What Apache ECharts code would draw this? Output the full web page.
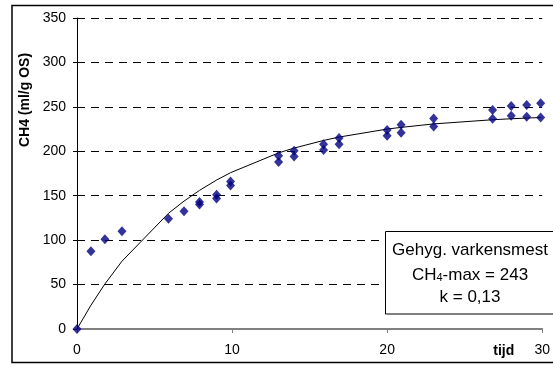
<!DOCTYPE html>
<html>
<head>
<meta charset="utf-8">
<script src="https://cdn.jsdelivr.net/npm/echarts@6/dist/echarts.min.js"></script>
<style>
  html, body { margin: 0; padding: 0; background: #fff; }
  #chart { width: 553px; height: 367px; }
</style>
</head>
<body>
<div id="chart"></div>
<script>
// Sampling times (days)
var sampleDays = [0, 0.9, 1.8, 2.9, 5.9, 6.9, 7.9, 9, 9.9, 13, 14, 15.9, 16.9, 20, 20.9, 23, 26.8, 28, 29, 29.9];
// Cumulative methane yield, duplicate A (ml/g OS)
var yieldA = [0, 87.5, 101, 110, 124, 132.5, 140, 147, 161.5, 188, 194, 201.5, 208, 217.5, 221, 228, 236.5, 240, 239, 238];
// Duplicate B (only measured from day 8 on)
var yieldB = [null, null, null, null, null, null, 143, 151, 166, 195, 200.5, 208, 215, 224, 230, 237, 246.5, 251, 252, 254];
// First-order model curve, CH4-max = 243, k = 0,13
var modelYield = [0, 26.8, 50.7, 76.3, 130.2, 143.9, 156.0, 167.6, 175.9, 198.2, 203.6, 212.2, 216.0, 225.0, 226.9, 230.8, 235.5, 236.6, 237.4, 238.0];
var xTicks = [0, 10, 20, 30];
var yTicks = [0, 50, 100, 150, 200, 250, 300, 350];

function pairs(xs, ys) {
  var out = [];
  for (var i = 0; i < xs.length; i++) {
    if (ys[i] !== null) out.push([xs[i], ys[i]]);
  }
  return out;
}

var font = 'Arial, "Liberation Sans", sans-serif';
var chart = echarts.init(document.getElementById('chart'));
chart.setOption({
  animation: false,
  backgroundColor: '#fff',
  grid: { left: 77, right: 8, top: 18, bottom: 38, containLabel: false },
  xAxis: {
    type: 'value',
    min: xTicks[0], max: xTicks[xTicks.length - 1], interval: 10,
    name: 'tijd',
    nameLocation: 'end',
    nameGap: -49,
    nameTextStyle: { fontFamily: font, fontSize: 14, fontWeight: 'bold', color: '#000', verticalAlign: 'top', padding: [15, 0, 0, 0] },
    axisLine: { show: true, onZero: false, lineStyle: { color: '#808080', width: 2 } },
    axisTick: { show: true, inside: false, length: 4, lineStyle: { color: '#808080', width: 1 } },
    axisLabel: { fontFamily: font, fontSize: 14, color: '#000', margin: 14 },
    splitLine: { show: false }
  },
  yAxis: {
    type: 'value',
    min: yTicks[0], max: yTicks[yTicks.length - 1], interval: 50,
    axisLine: { show: true, onZero: false, lineStyle: { color: '#000', width: 1 } },
    axisTick: { show: true, inside: false, length: 4, lineStyle: { color: '#000', width: 1 } },
    axisLabel: { fontFamily: font, fontSize: 14, color: '#000', margin: 11 },
    splitLine: { show: true, lineStyle: { color: '#000', width: 1, type: [8, 6] } }
  },
  series: [
    {
      type: 'line',
      data: pairs(sampleDays, modelYield),
      showSymbol: false,
      symbol: 'none',
      lineStyle: { color: '#000', width: 1 },
      z: 2
    },
    {
      type: 'scatter',
      data: pairs(sampleDays, yieldA),
      symbol: 'diamond',
      symbolSize: [9, 10],
      itemStyle: { color: '#000080' },
      clip: false,
      z: 3
    },
    {
      type: 'scatter',
      data: pairs(sampleDays, yieldB),
      symbol: 'diamond',
      symbolSize: [9, 10],
      itemStyle: { color: '#000080' },
      clip: false,
      z: 3
    }
  ],
  graphic: [
    {
      type: 'rect',
      shape: { x: 12, y: 5.5, width: 560, height: 357 },
      style: { fill: 'none', stroke: '#000', lineWidth: 1.5 },
      silent: true, z: 10
    },
    {
      type: 'text',
      x: 25, y: 100,
      rotation: Math.PI / 2,
      style: { text: 'CH4 (ml/g OS)', font: 'bold 14px ' + font, fill: '#000', align: 'center', verticalAlign: 'middle' },
      z: 10
    },
    {
      type: 'rect',
      shape: { x: 385.5, y: 231.5, width: 175, height: 82.5 },
      style: { fill: '#fff', stroke: '#000', lineWidth: 1 },
      z: 10
    },
    {
      type: 'text',
      x: 470, y: 250,
      style: { text: 'Gehyg. varkensmest', font: '17px ' + font, fill: '#000', align: 'center', verticalAlign: 'middle' },
      z: 11
    },
    {
      type: 'text',
      x: 470, y: 274,
      style: {
        text: '{n|CH}{s|4}{n|-max = 243}',
        align: 'center', verticalAlign: 'middle',
        rich: {
          n: { fontFamily: font, fontSize: 17, fill: '#000', lineHeight: 19, verticalAlign: 'bottom' },
          s: { fontFamily: font, fontSize: 11, fill: '#000', lineHeight: 14, verticalAlign: 'bottom' }
        }
      },
      z: 11
    },
    {
      type: 'text',
      x: 470, y: 297,
      style: { text: 'k = 0,13', font: '17px ' + font, fill: '#000', align: 'center', verticalAlign: 'middle' },
      z: 11
    }
  ]
});
</script>
</body>
</html>
